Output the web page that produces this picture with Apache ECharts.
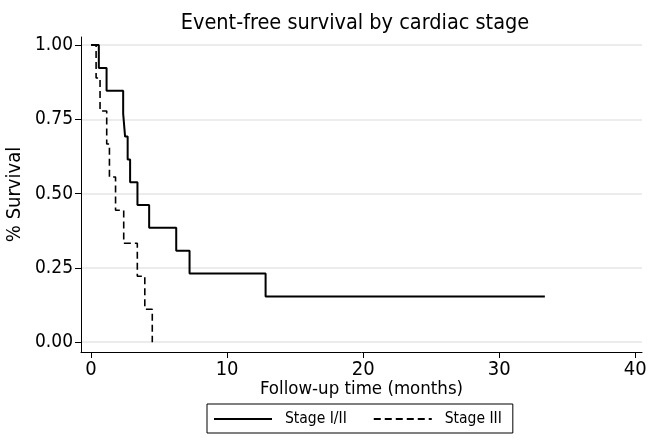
<!DOCTYPE html>
<html>
<head>
<meta charset="utf-8">
<script src="https://cdn.jsdelivr.net/npm/echarts@6/dist/echarts.min.js"></script>
<style>
html,body{margin:0;padding:0;background:#fff;}
#chart{width:650px;height:446px;}
</style>
</head>
<body>
<div id="chart"></div>
<script>
// Kaplan-Meier step data
const stage12Time = [0, 0.57, 1.14, 2.36, 2.50, 2.69, 2.87, 3.41, 4.27, 6.26, 7.24, 12.83, 33.36];
const stage12Surv = [1, 0.923, 0.846, 0.769, 0.692, 0.615, 0.538, 0.462, 0.385, 0.308, 0.231, 0.154, 0.154];
const stage3Time = [0, 0.37, 0.66, 1.15, 1.35, 1.80, 2.40, 3.40, 3.95, 4.50];
const stage3Surv = [1, 0.889, 0.778, 0.667, 0.556, 0.444, 0.333, 0.222, 0.111, 0];
const xTicks = [0, 10, 20, 30, 40];
const yTicks = [0, 0.25, 0.5, 0.75, 1];
const seriesNames = ['Stage I/II', 'Stage III'];

const FONT = '"Liberation Sans Narrow", "DejaVu Sans Condensed", "Liberation Sans", Arial, sans-serif';
const zip = (a, b) => a.map((v, i) => [v, b[i]]);

const chart = echarts.init(document.getElementById('chart'), null, {renderer: 'canvas'});
chart.setOption({
  animation: false,
  backgroundColor: '#fff',
  textStyle: {fontFamily: FONT, color: '#000'},
  title: {
    text: 'Event-free survival by cardiac stage',
    left: 350, top: 7, textAlign: 'center',
    textStyle: {fontFamily: FONT, fontSize: 21.5, fontWeight: 'normal', color: '#000'}
  },
  grid: {left: 81, right: 8, top: 37, bottom: 94, containLabel: false, outerBoundsMode: 'none'},
  legend: {
    data: seriesNames,
    left: 207, top: 404,
    orient: 'horizontal',
    itemWidth: 58, itemHeight: 10,
    itemGap: 26,
    padding: [7, 11, 6, 6],
    borderColor: '#000', borderWidth: 1,
    itemStyle: {color: 'rgba(0,0,0,0)', borderWidth: 0, opacity: 0},
    textStyle: {fontFamily: FONT, fontSize: 15.5, color: '#000', padding: [0, 0, 0, 8]}
  },
  xAxis: {
    type: 'value', min: -0.74, max: 40.5,
    name: 'Follow-up time (months)', nameLocation: 'middle', nameGap: 28,
    nameMoveOverlap: false,
    nameTextStyle: {fontFamily: FONT, fontSize: 18.5, color: '#000'},
    axisLine: {show: true, onZero: false, lineStyle: {color: '#000', width: 1}},
    axisTick: {show: true, length: 6, customValues: xTicks, lineStyle: {color: '#000'}},
    axisLabel: {customValues: xTicks, fontFamily: FONT, fontSize: 20, color: '#000', margin: 8},
    splitLine: {show: false}
  },
  yAxis: {
    type: 'value', min: -0.033, max: 1.027,
    name: '% Survival', nameLocation: 'middle', nameGap: 56,
    nameMoveOverlap: false,
    nameTextStyle: {fontFamily: FONT, fontSize: 20, color: '#000'},
    axisLine: {show: true, onZero: false, lineStyle: {color: '#000', width: 1}},
    axisTick: {show: true, length: 6, customValues: yTicks, lineStyle: {color: '#000'}},
    axisLabel: {customValues: yTicks, fontFamily: FONT, fontSize: 19, color: '#000', margin: 8,
      formatter: v => v.toFixed(2)},
    splitLine: {show: true, lineStyle: {color: '#e6e6e6', width: 1.5}}
  },
  series: [
    {
      name: seriesNames[0], type: 'line', step: 'end', symbol: 'none',
      data: zip(stage12Time, stage12Surv),
      lineStyle: {color: '#000', width: 2, type: 'solid'},
      itemStyle: {color: '#000'}
    },
    {
      name: seriesNames[1], type: 'line', step: 'end', symbol: 'none',
      data: zip(stage3Time, stage3Surv),
      lineStyle: {color: '#000', width: 1.6, type: [7, 4]},
      itemStyle: {color: '#000'}
    }
  ]
});
</script>
</body>
</html>
